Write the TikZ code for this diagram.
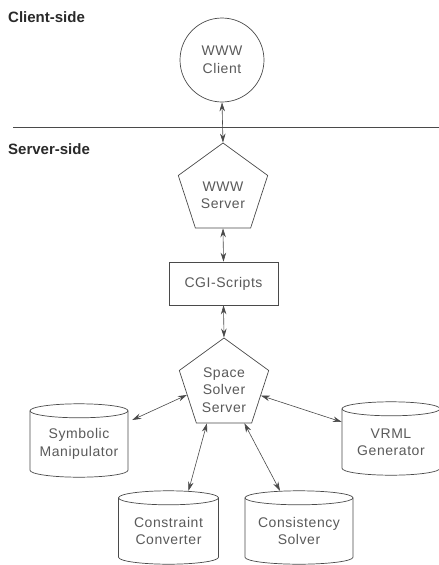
\documentclass[tikz,border=0pt]{standalone}
\usepackage{fontspec}
\setmainfont{Liberation Sans}
\newfontfamily\lblfont[LetterSpace=4]{Liberation Sans}
\usetikzlibrary{arrows.meta,shapes.geometric}
\definecolor{ln}{HTML}{4A4A4A}
\definecolor{tx}{HTML}{5A5A5A}
\definecolor{tt}{HTML}{2A2A2A}
\tikzset{
 shp/.style={draw=ln, line width=0.7pt},
 lbl/.style={text=tx, font=\lblfont\fontsize{14}{17.5}\selectfont, align=center},
 ttl/.style={text=tt, font=\fontsize{15}{18}\selectfont\bfseries, anchor=base west, inner sep=0pt},
 pent/.style={shp, regular polygon, regular polygon sides=5, inner sep=0pt, minimum size=94pt},
 cyl/.style={lbl, rectangle, inner sep=0pt, minimum width=98pt, minimum height=66pt},
 conn/.style={draw=ln, line width=0.6pt, {Stealth[length=9pt,width=5.5pt]}-{Stealth[length=9pt,width=5.5pt]}},
}
\newcommand\cylout[2]{%
 \draw[shp] (#1.north) ellipse[x radius=#2pt, y radius=7pt];
 \draw[shp] ([xshift=-#2pt]#1.north) -- ([xshift=-#2pt,yshift=7pt]#1.south)
   arc[start angle=180,end angle=360,x radius=#2pt,y radius=7pt]
   -- ([xshift=#2pt]#1.north);
}
\begin{document}
\begin{tikzpicture}[x=1pt,y=-1pt]
\useasboundingbox (0,0) rectangle (439,565);
\fill[white] (0,0) rectangle (439,565);
% titles
\node[ttl] (ct) at (8,22.5) {Client-side};
\node[ttl] (st) at (8,154) {Server-side};
% divider
\coordinate (dl) at (13,127);
\coordinate (dr) at (439,127);
\draw[shp] (dl) -- (dr);
% nodes
\node[shp, lbl, circle, minimum size=84pt, inner sep=0pt] (cl) at (222,60) {WWW\\Client};
\node[pent, label={[lbl,yshift=-5pt]center:WWW\\Server}] (ws) at (223,190) {};
\node[shp, lbl, rectangle, minimum width=109pt, minimum height=43pt, inner sep=0pt] (cgi) at (223.5,283.5) {CGI-Scripts};
\node[pent, label={[lbl,yshift=-5pt]center:Space\\Solver\\Server}] (ss) at (224,385) {};
\node[cyl] (sm) at (79,444) {Symbolic\\Manipulator};
\cylout{sm}{49}
\node[cyl] (cc) at (168.5,531) {Constraint\\Converter};
\cylout{cc}{50}
\node[cyl] (cs) at (299,531) {Consistency\\Solver};
\cylout{cs}{54}
\node[cyl] (vg) at (391,442) {VRML\\Generator};
\cylout{vg}{49}
% connectors
\draw[conn] (cl.south) -- (ws.north);
\draw[conn] (ws.south) -- (cgi.north);
\draw[conn] (cgi.south) -- (ss.north);
\draw[conn] (ss.195) -- ([shift={(4pt,24pt)}]sm.east);
\draw[conn] (ss.246) -- ([shift={(20pt,7pt)}]cc.north);
\draw[conn] (ss.298) -- ([shift={(-19pt,7pt)}]cs.north);
\draw[conn] (ss.344) -- ([yshift=20pt]vg.west);
\end{tikzpicture}
\end{document}
